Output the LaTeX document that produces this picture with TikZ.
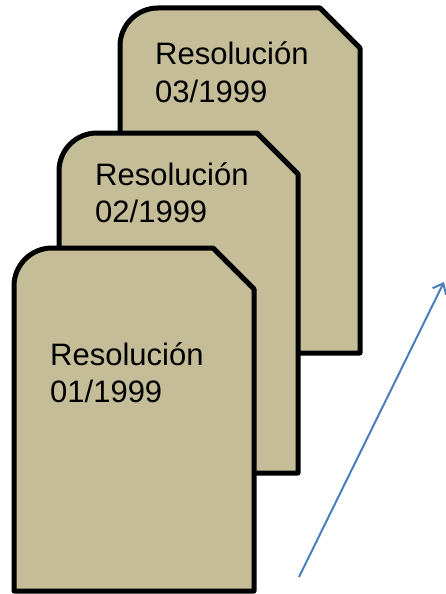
\documentclass[tikz,border=0pt]{standalone}
\usepackage{fontspec}
\setmainfont{Liberation Sans}
\usetikzlibrary{positioning,arrows.meta}
\definecolor{sheettan}{HTML}{C4BD97}
\definecolor{arrowblue}{HTML}{4A7EBB}

\begin{document}
\begin{tikzpicture}[x=1pt, y=-1pt,
  sheet/.style={fill=sheettan,draw=black,line width=5pt,line join=round},
  sheet text/.style={anchor=base west,inner sep=0pt,align=left,
    font=\fontsize{31}{37}\selectfont}]
\useasboundingbox (0,0) rectangle (446,594);

% back sheet
\draw[sheet] (120,353) -- (120,46) arc[start angle=180,end angle=90,radius=38pt]
  -- (320,8) -- (360,48) -- (360,353) -- cycle;
\node[sheet text] (res3) at (155,102) {Resolución\\03/1999};

% middle sheet
\draw[sheet] (59,473) -- (59,171) arc[start angle=180,end angle=90,radius=38pt]
  -- (257,133) -- (298,174) -- (298,473) -- cycle;
\node[sheet text] (res2) at (95,222) {Resolución\\02/1999};

% front sheet
\draw[sheet] (14,591) -- (14,286) arc[start angle=180,end angle=90,radius=38pt]
  -- (213,248) -- (254,289) -- (254,591) -- cycle;
\node[sheet text] (res1) at (50,402) {Resolución\\01/1999};

\coordinate (tail) at (299,577);
\coordinate (tip) at (444,282);
\draw[arrowblue,line width=2pt,-{Straight Barb[length=9pt,width=15pt]}] (tail) -- (tip);
\end{tikzpicture}
\end{document}
